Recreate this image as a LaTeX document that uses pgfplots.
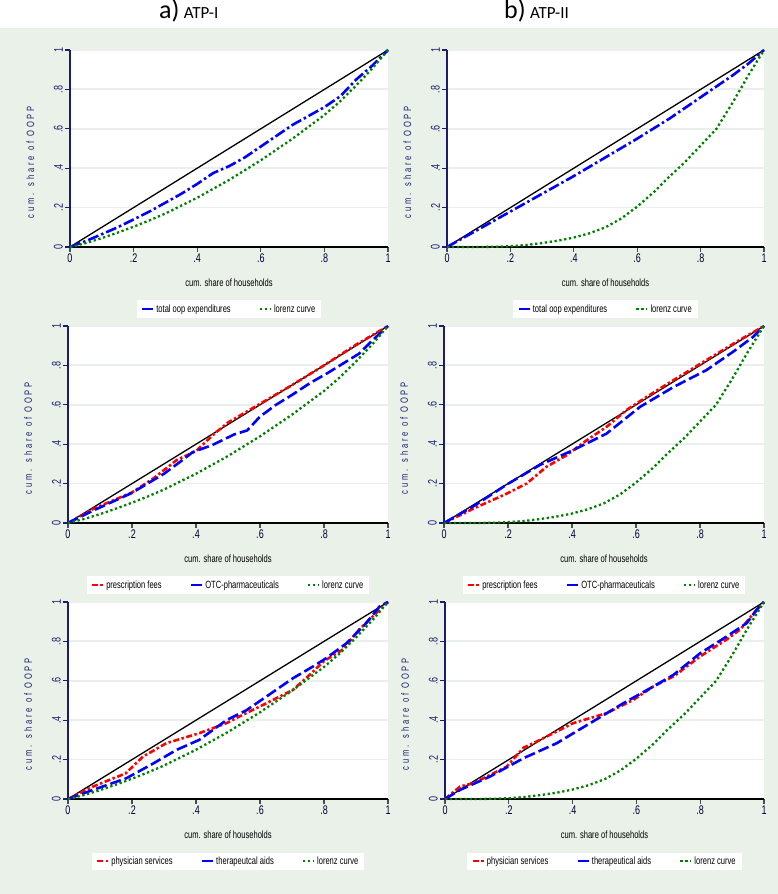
\documentclass[border=0pt]{standalone}
\usepackage{pgfplots}
\pgfplotsset{compat=1.18}
\usepackage{fontspec}
\setmainfont{Liberation Sans}[FakeStretch=0.72]
\newfontfamily\titlefont{Carlito}
\definecolor{bgc}{RGB}{233,241,233}
\definecolor{gridc}{RGB}{234,239,237}
\definecolor{navyc}{RGB}{28,28,110}
\definecolor{sblue}{RGB}{0,0,255}
\definecolor{sred}{RGB}{255,0,0}
\definecolor{sgreen}{RGB}{0,128,0}
\pgfplotsset{
  stata/.style={
    scale only axis, width=319pt, height=197pt,
    xmin=0, xmax=1, ymin=0, ymax=1,
    axis x line*=bottom, axis y line*=left,
    axis background/.style={fill=white},
    xtick={0,0.2,0.4,0.6,0.8,1}, xticklabels={0,.2,.4,.6,.8,1},
    ytick={0,0.2,0.4,0.6,0.8,1}, yticklabels={0,.2,.4,.6,.8,1},
    /pgf/number format/assume math mode=true,
    tick align=outside, major tick length=5pt,
    ymajorgrids, grid style={line width=1.8pt, color=gridc},
    x axis line style={black, line width=1.4pt},
    y axis line style={navyc, line width=1.2pt},
    xtick style={black!70, line width=1.3pt},
    ytick style={navyc, line width=1.2pt},
    tick label style={font=\fontsize{12.5}{13}\selectfont},
    xticklabel style={text=black!80!blue, inner sep=1.5pt},
    yticklabel style={rotate=90, anchor=south, text=navyc, inner sep=2pt},
    xlabel={cum. share of households},
    xlabel style={at={(axis description cs:0.5,-0.183)}, anchor=center, font=\fontsize{10.5}{11}\selectfont},
    ylabel={\addfontfeature{LetterSpace=28}cum. share of OOPP},
    ylabel style={at={(axis description cs:-0.125,0.43)}, anchor=center, text=navyc, font=\fontsize{10.5}{11}\selectfont},
    clip=false,
    legend style={at={(axis description cs:0.5,-0.315)}, anchor=center, legend columns=-1,
      draw=none, fill=white, font=\fontsize{10.5}{11}\selectfont, inner ysep=2pt, inner xsep=4pt,
      /tikz/every even column/.append style={column sep=26pt}},
    legend image code/.code={\draw[#1] (0pt,0pt) -- (11pt,0pt);},
  },
  eq/.style={black, line width=1.3pt, forget plot},
  tot/.style={sblue, line width=2.6pt, dash pattern=on 11pt off 3pt on 2.5pt off 3pt},
  lor/.style={sgreen, line width=2.3pt, dash pattern=on 2.3pt off 2.6pt},
  redd/.style={sred, line width=2.6pt, dash pattern=on 6pt off 2.5pt on 2.5pt off 2.5pt},
  blued/.style={sblue, line width=2.6pt, dash pattern=on 11pt off 4pt},
}
\begin{document}
\begin{tikzpicture}[x=1pt,y=1pt]
\useasboundingbox (0,0) rectangle (778,894);
\fill[white] (0,0) rectangle (778,894);
\fill[bgc] (0,0) rectangle (778,866);
\node[anchor=base west, inner sep=0pt] at (159,875) {\titlefont\fontsize{26}{27}\selectfont a)\,\fontsize{17}{18}\selectfont ATP-I};
\node[anchor=base west, inner sep=0pt] at (504,875) {\titlefont\fontsize{26}{27}\selectfont b)\,\fontsize{17}{18}\selectfont ATP-II};

% ---------- top left
\begin{axis}[stata, at={(70pt,647pt)}, anchor=south west, width=318pt]
\addplot[eq] coordinates {(0,0)(1,1)};
\addplot[tot] coordinates {(0,0)(0.05,0.03)(0.1,0.065)(0.15,0.1)(0.2,0.14)(0.25,0.18)(0.3,0.225)(0.35,0.27)(0.4,0.32)(0.45,0.375)(0.5,0.41)(0.55,0.455)(0.6,0.51)(0.65,0.565)(0.7,0.62)(0.75,0.665)(0.8,0.71)(0.85,0.765)(0.9,0.85)(0.95,0.92)(1,1)};
\addlegendentry{total oop expenditures}
\addplot[lor] coordinates {(0,0)(0.05,0.02)(0.1,0.045)(0.15,0.073)(0.2,0.103)(0.25,0.135)(0.3,0.17)(0.35,0.21)(0.4,0.25)(0.45,0.295)(0.5,0.34)(0.55,0.39)(0.6,0.44)(0.65,0.495)(0.7,0.55)(0.75,0.61)(0.8,0.67)(0.85,0.74)(0.9,0.82)(0.95,0.905)(1,1)};
\addlegendentry{lorenz curve}
\end{axis}

% ---------- top right
\begin{axis}[stata, at={(447pt,647pt)}, anchor=south west, width=317pt]
\addplot[eq] coordinates {(0,0)(1,1)};
\addplot[tot] coordinates {(0,0)(0.1,0.09)(0.2,0.18)(0.3,0.27)(0.4,0.36)(0.5,0.455)(0.6,0.55)(0.7,0.65)(0.8,0.76)(0.9,0.87)(0.95,0.93)(1,1)};
\addlegendentry{total oop expenditures}
\addplot[lor] coordinates {(0,0)(0.1,0)(0.15,0.001)(0.2,0.004)(0.25,0.01)(0.3,0.02)(0.35,0.032)(0.4,0.048)(0.45,0.07)(0.5,0.1)(0.55,0.145)(0.6,0.205)(0.65,0.275)(0.7,0.355)(0.75,0.43)(0.8,0.515)(0.85,0.6)(0.9,0.73)(0.95,0.87)(1,1)};
\addlegendentry{lorenz curve}
\end{axis}

% ---------- middle left
\begin{axis}[stata, at={(68pt,371pt)}, anchor=south west, width=320pt]
\addplot[eq] coordinates {(0,0)(1,1)};
\addplot[redd] coordinates {(0,0)(0.08,0.073)(0.2,0.155)(0.27,0.23)(0.34,0.32)(0.4,0.365)(0.455,0.45)(0.5,0.51)(0.6,0.605)(0.7,0.7)(0.8,0.8)(0.9,0.905)(1,1)};
\addlegendentry{prescription fees}
\addplot[blued] coordinates {(0,0)(0.08,0.064)(0.2,0.153)(0.3,0.25)(0.35,0.31)(0.39,0.36)(0.45,0.395)(0.52,0.45)(0.56,0.47)(0.6,0.54)(0.65,0.6)(0.7,0.65)(0.756,0.71)(0.81,0.76)(0.86,0.81)(0.91,0.86)(0.953,0.93)(1,1)};
\addlegendentry{OTC-pharmaceuticals}
\addplot[lor] coordinates {(0,0)(0.05,0.02)(0.1,0.045)(0.15,0.073)(0.2,0.103)(0.25,0.135)(0.3,0.17)(0.35,0.21)(0.4,0.25)(0.45,0.295)(0.5,0.34)(0.55,0.39)(0.6,0.44)(0.65,0.495)(0.7,0.55)(0.75,0.61)(0.8,0.67)(0.85,0.74)(0.9,0.82)(0.95,0.905)(1,1)};
\addlegendentry{lorenz curve}
\end{axis}

% ---------- middle right
\begin{axis}[stata, at={(444pt,371pt)}, anchor=south west, width=320pt]
\addplot[eq] coordinates {(0,0)(1,1)};
\addplot[redd] coordinates {(0,0)(0.092,0.073)(0.196,0.149)(0.258,0.2)(0.32,0.285)(0.383,0.344)(0.446,0.42)(0.508,0.488)(0.57,0.573)(0.633,0.64)(0.717,0.725)(0.82,0.827)(0.925,0.93)(1,1)};
\addlegendentry{prescription fees}
\addplot[blued] coordinates {(0,0)(0.092,0.085)(0.196,0.195)(0.3,0.295)(0.404,0.37)(0.508,0.454)(0.613,0.59)(0.717,0.69)(0.82,0.776)(0.904,0.87)(0.967,0.946)(1,1)};
\addlegendentry{OTC-pharmaceuticals}
\addplot[lor] coordinates {(0,0)(0.1,0)(0.15,0.001)(0.2,0.004)(0.25,0.01)(0.3,0.02)(0.35,0.032)(0.4,0.048)(0.45,0.07)(0.5,0.1)(0.55,0.145)(0.6,0.205)(0.65,0.275)(0.7,0.355)(0.75,0.43)(0.8,0.515)(0.85,0.6)(0.9,0.73)(0.95,0.87)(1,1)};
\addlegendentry{lorenz curve}
\end{axis}

% ---------- bottom left
\begin{axis}[stata, at={(68pt,95pt)}, anchor=south west, width=320pt]
\addplot[eq] coordinates {(0,0)(1,1)};
\addplot[redd] coordinates {(0,0)(0.078,0.063)(0.18,0.13)(0.234,0.215)(0.307,0.283)(0.41,0.334)(0.495,0.385)(0.557,0.436)(0.62,0.486)(0.703,0.554)(0.755,0.63)(0.8,0.7)(0.86,0.76)(0.91,0.86)(0.963,0.944)(1,1)};
\addlegendentry{physician services}
\addplot[blued] coordinates {(0,0)(0.078,0.046)(0.182,0.105)(0.266,0.18)(0.34,0.25)(0.41,0.3)(0.495,0.4)(0.557,0.45)(0.62,0.52)(0.703,0.613)(0.766,0.673)(0.807,0.715)(0.87,0.79)(0.932,0.893)(0.974,0.978)(1,1)};
\addlegendentry{therapeutcal aids}
\addplot[lor] coordinates {(0,0)(0.05,0.02)(0.1,0.045)(0.15,0.073)(0.2,0.103)(0.25,0.135)(0.3,0.17)(0.35,0.21)(0.4,0.25)(0.45,0.295)(0.5,0.34)(0.55,0.39)(0.6,0.44)(0.65,0.495)(0.7,0.55)(0.75,0.61)(0.8,0.67)(0.85,0.74)(0.9,0.82)(0.95,0.905)(1,1)};
\addlegendentry{lorenz curve}
\end{axis}

% ---------- bottom right
\begin{axis}[stata, at={(445pt,95pt)}, anchor=south west, width=319pt]
\addplot[eq] coordinates {(0,0)(1,1)};
\addplot[redd] coordinates {(0,0)(0.047,0.063)(0.089,0.08)(0.193,0.164)(0.246,0.26)(0.298,0.3)(0.402,0.385)(0.507,0.436)(0.59,0.503)(0.653,0.571)(0.716,0.622)(0.8,0.724)(0.883,0.81)(0.925,0.86)(0.977,0.96)(1,1)};
\addlegendentry{physician services}
\addplot[blued] coordinates {(0,0)(0.047,0.046)(0.141,0.114)(0.246,0.207)(0.35,0.283)(0.455,0.385)(0.559,0.486)(0.653,0.571)(0.716,0.63)(0.8,0.74)(0.883,0.825)(0.946,0.893)(0.977,0.96)(1,1)};
\addlegendentry{therapeutical aids}
\addplot[lor] coordinates {(0,0)(0.1,0)(0.15,0.001)(0.2,0.004)(0.25,0.01)(0.3,0.02)(0.35,0.032)(0.4,0.048)(0.45,0.07)(0.5,0.1)(0.55,0.145)(0.6,0.205)(0.65,0.275)(0.7,0.355)(0.75,0.43)(0.8,0.515)(0.85,0.6)(0.9,0.73)(0.95,0.87)(1,1)};
\addlegendentry{lorenz curve}
\end{axis}
\end{tikzpicture}
\end{document}
